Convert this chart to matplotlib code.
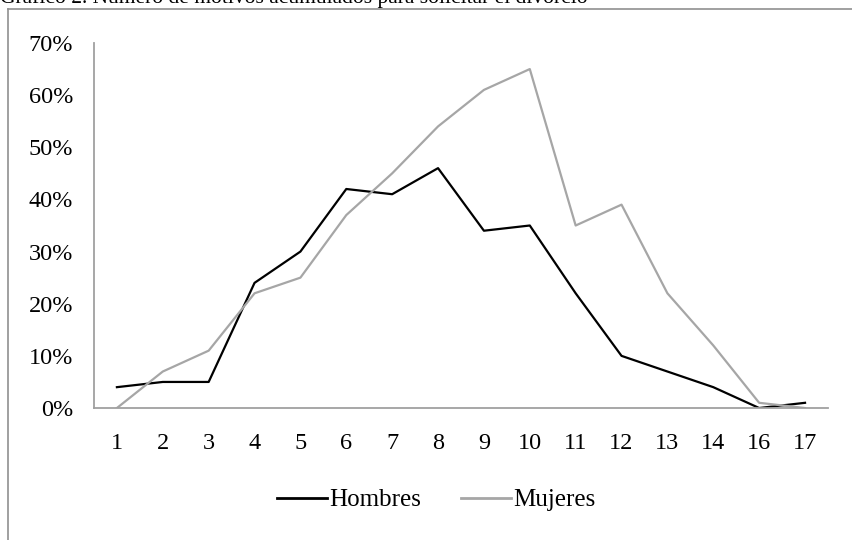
import matplotlib
matplotlib.use("Agg")
from matplotlib import pyplot as plt
from matplotlib.lines import Line2D

# Number of accumulated reasons (15 is missing in the source)
categories = ["1", "2", "3", "4", "5", "6", "7", "8", "9", "10",
              "11", "12", "13", "14", "16", "17"]
hombres = [4, 5, 5, 24, 30, 42, 41, 46, 34, 35, 22, 10, 7, 4, 0, 1]
mujeres = [0, 7, 11, 22, 25, 37, 45, 54, 61, 65, 35, 39, 22, 12, 1, 0]
y_ticks = [0, 10, 20, 30, 40, 50, 60, 70]

title = "Gráfico 2. Número de motivos acumulados para solicitar el divorcio"

plt.rcParams["font.family"] = ["Liberation Serif", "DejaVu Serif"]

fig = plt.figure(figsize=(8.52, 5.40), dpi=100)
ax = fig.add_axes([0.1103, 0.2444, 0.8615, 0.676])

x = list(range(len(categories)))
ax.plot(x, hombres, color="black", lw=1.6, label="Hombres")
ax.plot(x, mujeres, color="#a6a6a6", lw=1.6, label="Mujeres")

ax.set_xlim(-0.5, len(categories) - 0.5)
ax.set_ylim(0, 70)
ax.set_xticks(x)
ax.set_xticklabels(categories)
ax.set_yticks(y_ticks)
ax.set_yticklabels([f"{v}%" for v in y_ticks])
ax.tick_params(axis="both", length=0, labelsize=17.5)
ax.tick_params(axis="x", pad=18)
ax.tick_params(axis="y", pad=15)

for side in ["top", "right"]:
    ax.spines[side].set_visible(False)
for side in ["left", "bottom"]:
    ax.spines[side].set_color("#a0a0a0")
    ax.spines[side].set_linewidth(1.3)

# legend below the plot
handles = [Line2D([0], [0], color="black", lw=2),
           Line2D([0], [0], color="#a6a6a6", lw=2)]
fig.legend(handles, ["Hombres", "Mujeres"], loc="center",
           bbox_to_anchor=(0.512, 0.074), ncol=2, frameon=False,
           fontsize=18, handlelength=2.0, handletextpad=0.1,
           columnspacing=1.6)

# outer frame (top and left edges visible)
fig.add_artist(Line2D([8 / 852, 8 / 852], [0, 1 - 9 / 540],
                      color="#909090", lw=1.2))
fig.add_artist(Line2D([8 / 852, 1], [1 - 9 / 540, 1 - 9 / 540],
                      color="#909090", lw=1.2))

# title cut off at the top edge
fig.text(0.0, 1 - 3 / 540, title, fontsize=15.5, va="baseline", ha="left")

fig.savefig("out.png", dpi=100)
